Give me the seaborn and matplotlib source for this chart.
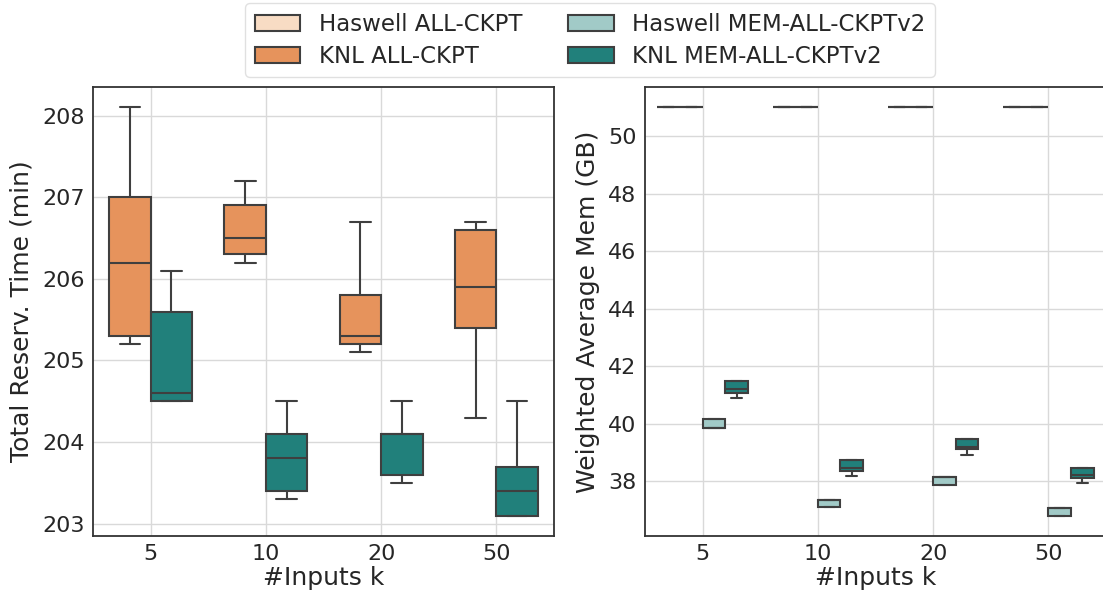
import numpy as np
import pandas as pd
import matplotlib
matplotlib.use("Agg")
import matplotlib.pyplot as plt
import seaborn as sns

# categories and series (5 samples per box: min, q1, median, q3, max)
inputs_k = ["5", "10", "20", "50"]
series_names = ["Haswell ALL-CKPT", "KNL ALL-CKPT",
                "Haswell MEM-ALL-CKPTv2", "KNL MEM-ALL-CKPTv2"]
series_colors = ["#f8dcc4", "#e6935c", "#a1cac7", "#21807b"]

# Total reservation time (min), KNL only
time_knl_all = [
    [205.2, 205.3, 206.2, 207.0, 208.1],
    [206.2, 206.3, 206.5, 206.9, 207.2],
    [205.1, 205.2, 205.3, 205.8, 206.7],
    [204.3, 205.4, 205.9, 206.6, 206.7],
]
time_knl_mem = [
    [204.5, 204.5, 204.6, 205.6, 206.1],
    [203.3, 203.4, 203.8, 204.1, 204.5],
    [203.5, 203.6, 204.1, 204.1, 204.5],
    [203.1, 203.1, 203.4, 203.7, 204.5],
]

# Weighted average memory (GB)
mem_haswell_all = [[51.0] * 5] * 4
mem_knl_all = [[51.0] * 5] * 4
mem_haswell_mem = [
    [39.85, 39.85, 39.85, 40.15, 40.15],
    [37.1, 37.1, 37.33, 37.33, 37.33],
    [37.85, 37.85, 38.13, 38.13, 38.13],
    [36.8, 36.8, 37.08, 37.08, 37.08],
]
mem_knl_mem = [
    [40.9, 41.07, 41.2, 41.48, 41.48],
    [38.17, 38.35, 38.46, 38.72, 38.72],
    [38.92, 39.1, 39.19, 39.45, 39.45],
    [37.94, 38.1, 38.21, 38.45, 38.45],
]


def to_frame(series):
    rows = []
    for name, values in series.items():
        for k, samples in zip(inputs_k, values):
            for v in samples:
                rows.append({"k": k, "series": name, "value": v})
    return pd.DataFrame(rows)


time_df = to_frame({"KNL ALL-CKPT": time_knl_all,
                    "KNL MEM-ALL-CKPTv2": time_knl_mem})
mem_df = to_frame({"Haswell ALL-CKPT": mem_haswell_all,
                   "KNL ALL-CKPT": mem_knl_all,
                   "Haswell MEM-ALL-CKPTv2": mem_haswell_mem,
                   "KNL MEM-ALL-CKPTv2": mem_knl_mem})

sns.set_theme(style="whitegrid", rc={
    "axes.edgecolor": ".2",
    "axes.linewidth": 1.3,
    "grid.color": ".85",
    "text.color": ".15",
    "axes.labelcolor": ".15",
    "xtick.color": ".15",
    "ytick.color": ".15",
})
plt.rcParams["font.family"] = ["DejaVu Sans"]

fig = plt.figure(figsize=(11.03, 5.97), dpi=100)
ax1 = fig.add_axes([93 / 1103, 1 - 536 / 597, 461 / 1103, 449 / 597])
ax2 = fig.add_axes([645 / 1103, 1 - 536 / 597, 461 / 1103, 449 / 597])

palette = dict(zip(series_names, series_colors))
box_kw = dict(saturation=1, linecolor="#3f3f3f", linewidth=1.5,
              whis=(0, 100), showfliers=False)

sns.boxplot(data=time_df, x="k", y="value", hue="series", order=inputs_k,
            hue_order=["KNL ALL-CKPT", "KNL MEM-ALL-CKPTv2"],
            palette=palette, width=0.72, ax=ax1, **box_kw)
sns.boxplot(data=mem_df, x="k", y="value", hue="series", order=inputs_k,
            hue_order=series_names, palette=palette, width=0.784,
            ax=ax2, **box_kw)

ax1.set_ylabel("Total Reserv. Time (min)", fontsize=18, labelpad=6)
ax2.set_ylabel("Weighted Average Mem (GB)", fontsize=18, labelpad=6)
for ax in (ax1, ax2):
    ax.set_xlabel("#Inputs k", fontsize=18, labelpad=1)
    ax.tick_params(labelsize=16, length=0, pad=6)
    ax.xaxis.grid(True)
    ax.set_axisbelow(True)

handles, labels = ax2.get_legend_handles_labels()
ax1.get_legend().remove()
ax2.get_legend().remove()
fig.legend(handles, labels, loc="upper center", bbox_to_anchor=(0.535, 1.0),
           ncol=2, fontsize=16.5, borderaxespad=0.15, labelspacing=0.4,
           frameon=True, edgecolor=".85")

fig.savefig("out.png", dpi=100)
